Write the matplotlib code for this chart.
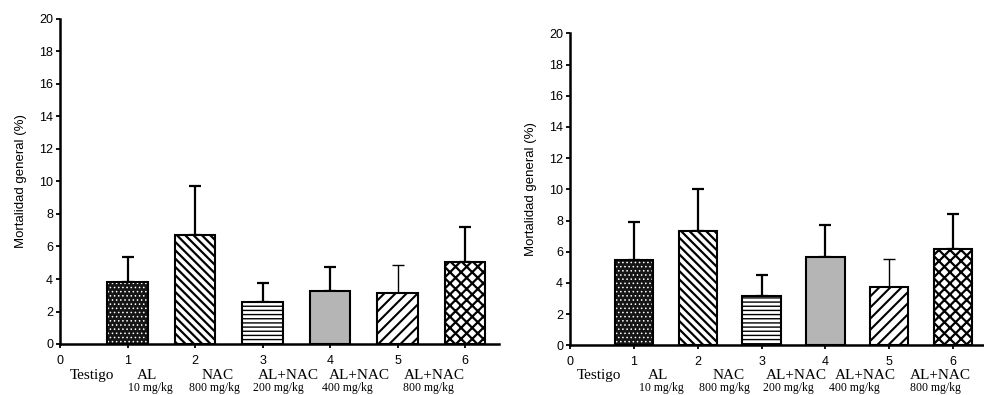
import matplotlib.pyplot as plt
import matplotlib.transforms as mtransforms
import numpy as np

plt.rcParams['font.family'] = ['Liberation Sans', 'DejaVu Sans']

positions = [1, 2, 3, 4, 5, 6]
group_names = ['Testigo', 'AL', 'NAC', 'AL+NAC', 'AL+NAC', 'AL+NAC']
doses = ['', '10 mg/kg', '800 mg/kg', '200 mg/kg', '400 mg/kg', '800 mg/kg']

# left panel
left_means = [3.8, 6.7, 2.57, 3.28, 3.14, 5.07]
left_tops = [5.35, 9.7, 3.73, 4.72, 4.84, 7.2]
# right panel
right_means = [5.47, 7.33, 3.18, 5.68, 3.76, 6.2]
right_tops = [7.9, 10.05, 4.53, 7.7, 5.51, 8.42]

# face, hatch, hatch colour, hatch linewidth
styles = [
    ('#151515', '....', 'white', 0.6),
    ('white', '\\\\\\\\', 'black', 1.6),
    ('white', '----', 'black', 1.0),
    ('#b5b5b5', '', 'black', 1.0),
    ('white', '///', 'black', 1.5),
    ('white', 'xxx', 'black', 1.6),
]

fig = plt.figure(figsize=(9.84, 3.95), dpi=100)


def panel(rect, means, tops, name_x, dose_x):
    ax = fig.add_axes(rect)
    for i, (x, m, t) in enumerate(zip(positions, means, tops)):
        face, hatch, hc, hlw = styles[i]
        with plt.rc_context({'hatch.linewidth': hlw}):
            ax.bar(x, m, width=0.6, color=face, edgecolor=hc, hatch=hatch,
                   linewidth=0, zorder=2)
        ax.bar(x, m, width=0.6, fill=False, edgecolor='black',
               linewidth=1.5, zorder=3)
        lw = 1.0 if i == 4 else 1.6
        ax.errorbar(x, m, yerr=[[0], [t - m]], fmt='none', ecolor='black',
                    elinewidth=lw, capsize=4, capthick=lw, zorder=1)
    ax.set_xlim(0, 6.5)
    ax.set_ylim(0, 20)
    ax.set_yticks(np.arange(0, 21, 2))
    ax.set_xticks(range(7))
    ax.tick_params(axis='both', labelsize=9, width=1.3, length=3, pad=2)
    ax.tick_params(axis='x', pad=5)
    for s in ['top', 'right']:
        ax.spines[s].set_visible(False)
    for s in ['left', 'bottom']:
        ax.spines[s].set_linewidth(1.8)
    ax.set_ylabel('Mortalidad general (%)', fontsize=9.5, labelpad=9)
    trans = mtransforms.blended_transform_factory(ax.transData, fig.transFigure)
    for k, (name, dose) in enumerate(zip(group_names, doses)):
        ax.text(name_x[k], 1 - 379 / 395, name, fontsize=11,
                family='Liberation Serif', ha='center', va='baseline',
                transform=trans)
        if dose:
            ax.text(dose_x[k], 1 / 395, dose, fontsize=8.5,
                    family='Liberation Serif', ha='center', va='bottom',
                    transform=trans)
    return ax


panel([60 / 984, 1 - 344 / 395, 439 / 984, 325 / 395], left_means, left_tops,
      [0.47, 1.29, 2.33, 3.38, 4.43, 5.54], [0, 1.34, 2.28, 3.24, 4.26, 5.45])
panel([570 / 984, 1 - 345.3 / 395, 415 / 984, 312 / 395], right_means, right_tops,
      [0.46, 1.38, 2.48, 3.54, 4.63, 5.8], [0, 1.43, 2.42, 3.42, 4.46, 5.72])

fig.savefig('out.png', dpi=100)
